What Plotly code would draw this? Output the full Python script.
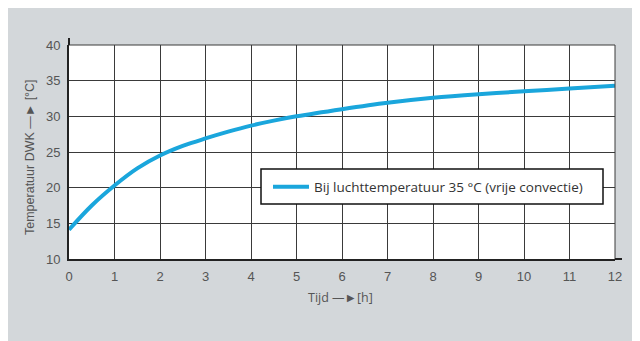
import plotly.graph_objects as go

# Data
tijd = [0, 0.5, 1, 1.5, 2, 2.5, 3, 3.5, 4, 4.5, 5, 6, 7, 8, 9, 10, 11, 12]
temperatuur = [14.1, 17.5, 20.3, 22.7, 24.5, 25.85, 26.9, 27.85, 28.7, 29.4, 30.0, 31.0, 31.9, 32.6, 33.1, 33.5, 33.9, 34.3]
series_name = "Bij luchttemperatuur 35 °C (vrije convectie)"
x_ticks = list(range(0, 13))
y_ticks = [10, 15, 20, 25, 30, 35, 40]

# The page body has an 8px margin; the figure is sized to fill the rest of the window.
OFF = 8
W, H = 640 - OFF, 341 - OFF
# plot area in window pixels: x 69..615, y 45..259
PX0, PX1, PY0, PY1 = 69, 615, 45, 259
L, T = PX0 - OFF, PY0 - OFF
R = W - (PX1 - OFF)
B = H - (PY1 - OFF)

def px_to_paper_x(px):
    return (px - PX0) / (PX1 - PX0)

def px_to_paper_y(py):
    return (PY1 - py) / (PY1 - PY0)

fig = go.Figure()
fig.add_trace(go.Scatter(
    x=tijd, y=temperatuur, mode="lines", name=series_name,
    line=dict(color="#1aa6dc", width=4, shape="spline", smoothing=1.0),
    showlegend=True,
))

tick_font = dict(family="Liberation Sans, Arial, sans-serif", size=13, color="#555555")

fig.update_layout(
    width=W, height=H,
    margin=dict(l=L, r=R, t=T, b=B),
    paper_bgcolor="#d3d7da",
    plot_bgcolor="#ffffff",
    showlegend=True,
    legend=dict(
        x=px_to_paper_x(268), y=px_to_paper_y(187),
        xanchor="left", yanchor="middle",
        bgcolor="rgba(0,0,0,0)", borderwidth=0,
        font=dict(family="Open Sans, sans-serif", size=13.5, color="#333333"),
        itemwidth=36,
    ),
    xaxis=dict(
        range=[0, 12], tickvals=x_ticks, ticktext=[str(v) for v in x_ticks],
        showgrid=True, gridcolor="#3a3a3a", gridwidth=1,
        showline=True, linecolor="#222222", linewidth=2,
        ticks="", tickfont=tick_font, zeroline=False,
        ticklabelstandoff=4,
    ),
    yaxis=dict(
        range=[10, 40], tickvals=y_ticks, ticktext=[str(v) for v in y_ticks],
        showgrid=True, gridcolor="#3a3a3a", gridwidth=1,
        showline=True, linecolor="#222222", linewidth=2,
        ticks="", tickfont=tick_font, zeroline=False,
        ticklabelstandoff=4,
    ),
    shapes=[
        # top and right borders
        dict(type="line", xref="paper", yref="paper", x0=0, x1=1, y0=1, y1=1,
             line=dict(color="#3a3a3a", width=1)),
        dict(type="line", xref="paper", yref="paper", x0=1, x1=1, y0=0, y1=1,
             line=dict(color="#3a3a3a", width=1)),
        # small overhangs of the axis lines
        dict(type="line", xref="paper", yref="paper", x0=0, x1=0, y0=1, y1=px_to_paper_y(38),
             line=dict(color="#222222", width=2)),
        dict(type="line", xref="paper", yref="paper", x0=1, x1=px_to_paper_x(622), y0=0, y1=0,
             line=dict(color="#222222", width=2)),
        # legend box
        dict(type="rect", xref="paper", yref="paper",
             x0=px_to_paper_x(261), x1=px_to_paper_x(603),
             y0=px_to_paper_y(204), y1=px_to_paper_y(169),
             fillcolor="#ffffff", line=dict(color="#111111", width=1.5), layer="above"),
    ],
    annotations=[
        dict(text="Temperatuur DWK —► [°C]", xref="paper", yref="paper",
             x=px_to_paper_x(30), y=px_to_paper_y(157), textangle=-90,
             showarrow=False, xanchor="center", yanchor="middle",
             font=dict(family="Liberation Sans, Arial, sans-serif", size=12.5, color="#555555")),
        dict(text="Tijd —►[h]", xref="paper", yref="paper",
             x=px_to_paper_x(340), y=px_to_paper_y(297),
             showarrow=False, xanchor="center", yanchor="middle",
             font=dict(family="Open Sans, sans-serif", size=12.5, color="#555555")),
    ],
)

fig.write_html("out.html")
